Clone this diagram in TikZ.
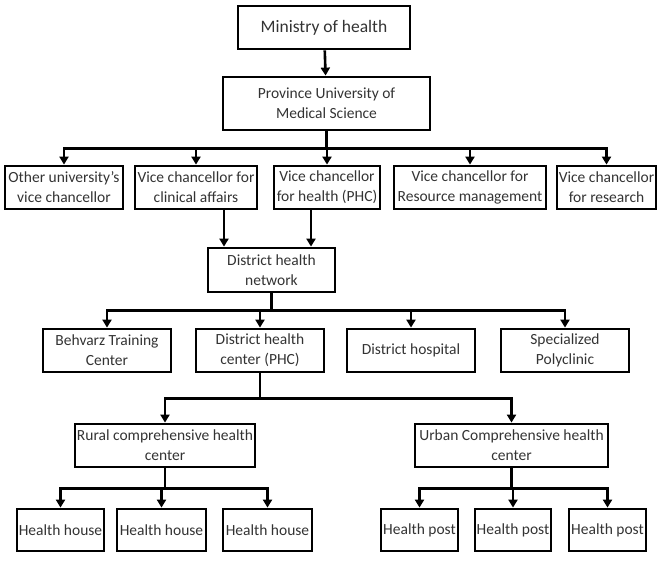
\documentclass[tikz,border=0pt]{standalone}
\usepackage{fontspec}
\setmainfont{Carlito}
\usetikzlibrary{arrows.meta, positioning}

\begin{document}
\begin{tikzpicture}[
    x=1pt, y=-1pt,
    >={Triangle[length=8pt, width=9pt]},
    every node/.style={draw, rectangle, line width=2.8pt, align=center, inner sep=1pt,
        minimum height=43pt, text=black!80, font=\fontsize{15.5}{20}\selectfont},
    conn/.style={->, line width=2.6pt},
]
\useasboundingbox (0,0) rectangle (663,560);

% top levels
\node[minimum width=172pt, font=\fontsize{17.5}{20}\selectfont] (ministry) at (324,27.5) {Ministry of health};
\node[minimum width=207pt, minimum height=53pt] (univ) at (326.5,103.5) {Province University of\\Medical Science};

% vice chancellors
\node[minimum width=118pt] (other) at (64,187.5) {Other university's\\vice chancellor};
\node[minimum width=122pt] (clinical) at (196,187.5) {Vice chancellor for\\clinical affairs};
\node[minimum width=106pt] (phc) at (327,187.5) {Vice chancellor\\for health (PHC)};
\node[minimum width=152pt] (resource) at (470,187.5) {Vice chancellor for\\Resource management};
\node[minimum width=99pt] (research) at (606.5,187.5) {Vice chancellor\\for research};

\node[minimum width=127pt, minimum height=44pt] (network) at (271.5,270) {District health\\network};

% district level
\node[minimum width=128pt] (behvarz) at (107,350.5) {Behvarz Training\\Center};
\node[minimum width=128pt] (dhc) at (260,350.5) {District health\\center (PHC)};
\node[minimum width=128pt] (hospital) at (411,350.5) {District hospital};
\node[minimum width=128pt] (poly) at (565,350.5) {Specialized\\Polyclinic};

\node[minimum width=180pt] (rural) at (165,445.5) {Rural comprehensive health\\center};
\node[minimum width=193pt] (urban) at (511.5,445.5) {Urban Comprehensive health\\center};

% houses and posts
\node[minimum width=87pt, minimum height=42pt] (house1) at (60.5,530) {Health house};
\node[minimum width=89pt, minimum height=42pt] (house2) at (161.5,530) {Health house};
\node[minimum width=89pt, minimum height=42pt] (house3) at (267.5,530) {Health house};
\node[minimum width=77pt, minimum height=42pt] (post1) at (419.5,530) {Health post};
\node[minimum width=76pt, minimum height=42pt] (post2) at (513,530) {Health post};
\node[minimum width=77pt, minimum height=42pt] (post3) at (607.5,530) {Health post};

\draw[conn] (ministry) -- (univ);

\draw[conn] (univ.south) -- ++(0,17) -| (other.north);
\draw[conn] (univ.south) -- ++(0,17) -| (clinical.north);
\draw[conn] (univ.south) -- ++(0,17) -| (phc.north);
\draw[conn] (univ.south) -- ++(0,17) -| (resource.north);
\draw[conn] (univ.south) -- ++(0,17) -| (research.north);

\draw[conn] ([xshift=-47.5pt]network.north |- clinical.south) -- ([xshift=-47.5pt]network.north);
\draw[conn] ([xshift=39.5pt]network.north |- phc.south) -- ([xshift=39.5pt]network.north);

\draw[conn] (network.south) -- ++(0,17) -| (behvarz.north);
\draw[conn] (network.south) -- ++(0,17) -| (dhc.north);
\draw[conn] (network.south) -- ++(0,17) -| (hospital.north);
\draw[conn] (network.south) -- ++(0,17) -| (poly.north);

\draw[conn] (dhc.south) -- ++(0,25) -| (rural.north);
\draw[conn] (dhc.south) -- ++(0,25) -| (urban.north);

\draw[conn] (rural.south) -- ++(0,20) -| (house1.north);
\draw[conn] (rural.south) -- ++(0,20) -| (house2.north);
\draw[conn] (rural.south) -- ++(0,20) -| (house3.north);

\draw[conn] (urban.south) -- ++(0,20) -| (post1.north);
\draw[conn] (urban.south) -- ++(0,20) -| (post2.north);
\draw[conn] (urban.south) -- ++(0,20) -| (post3.north);

\end{tikzpicture}
\end{document}
